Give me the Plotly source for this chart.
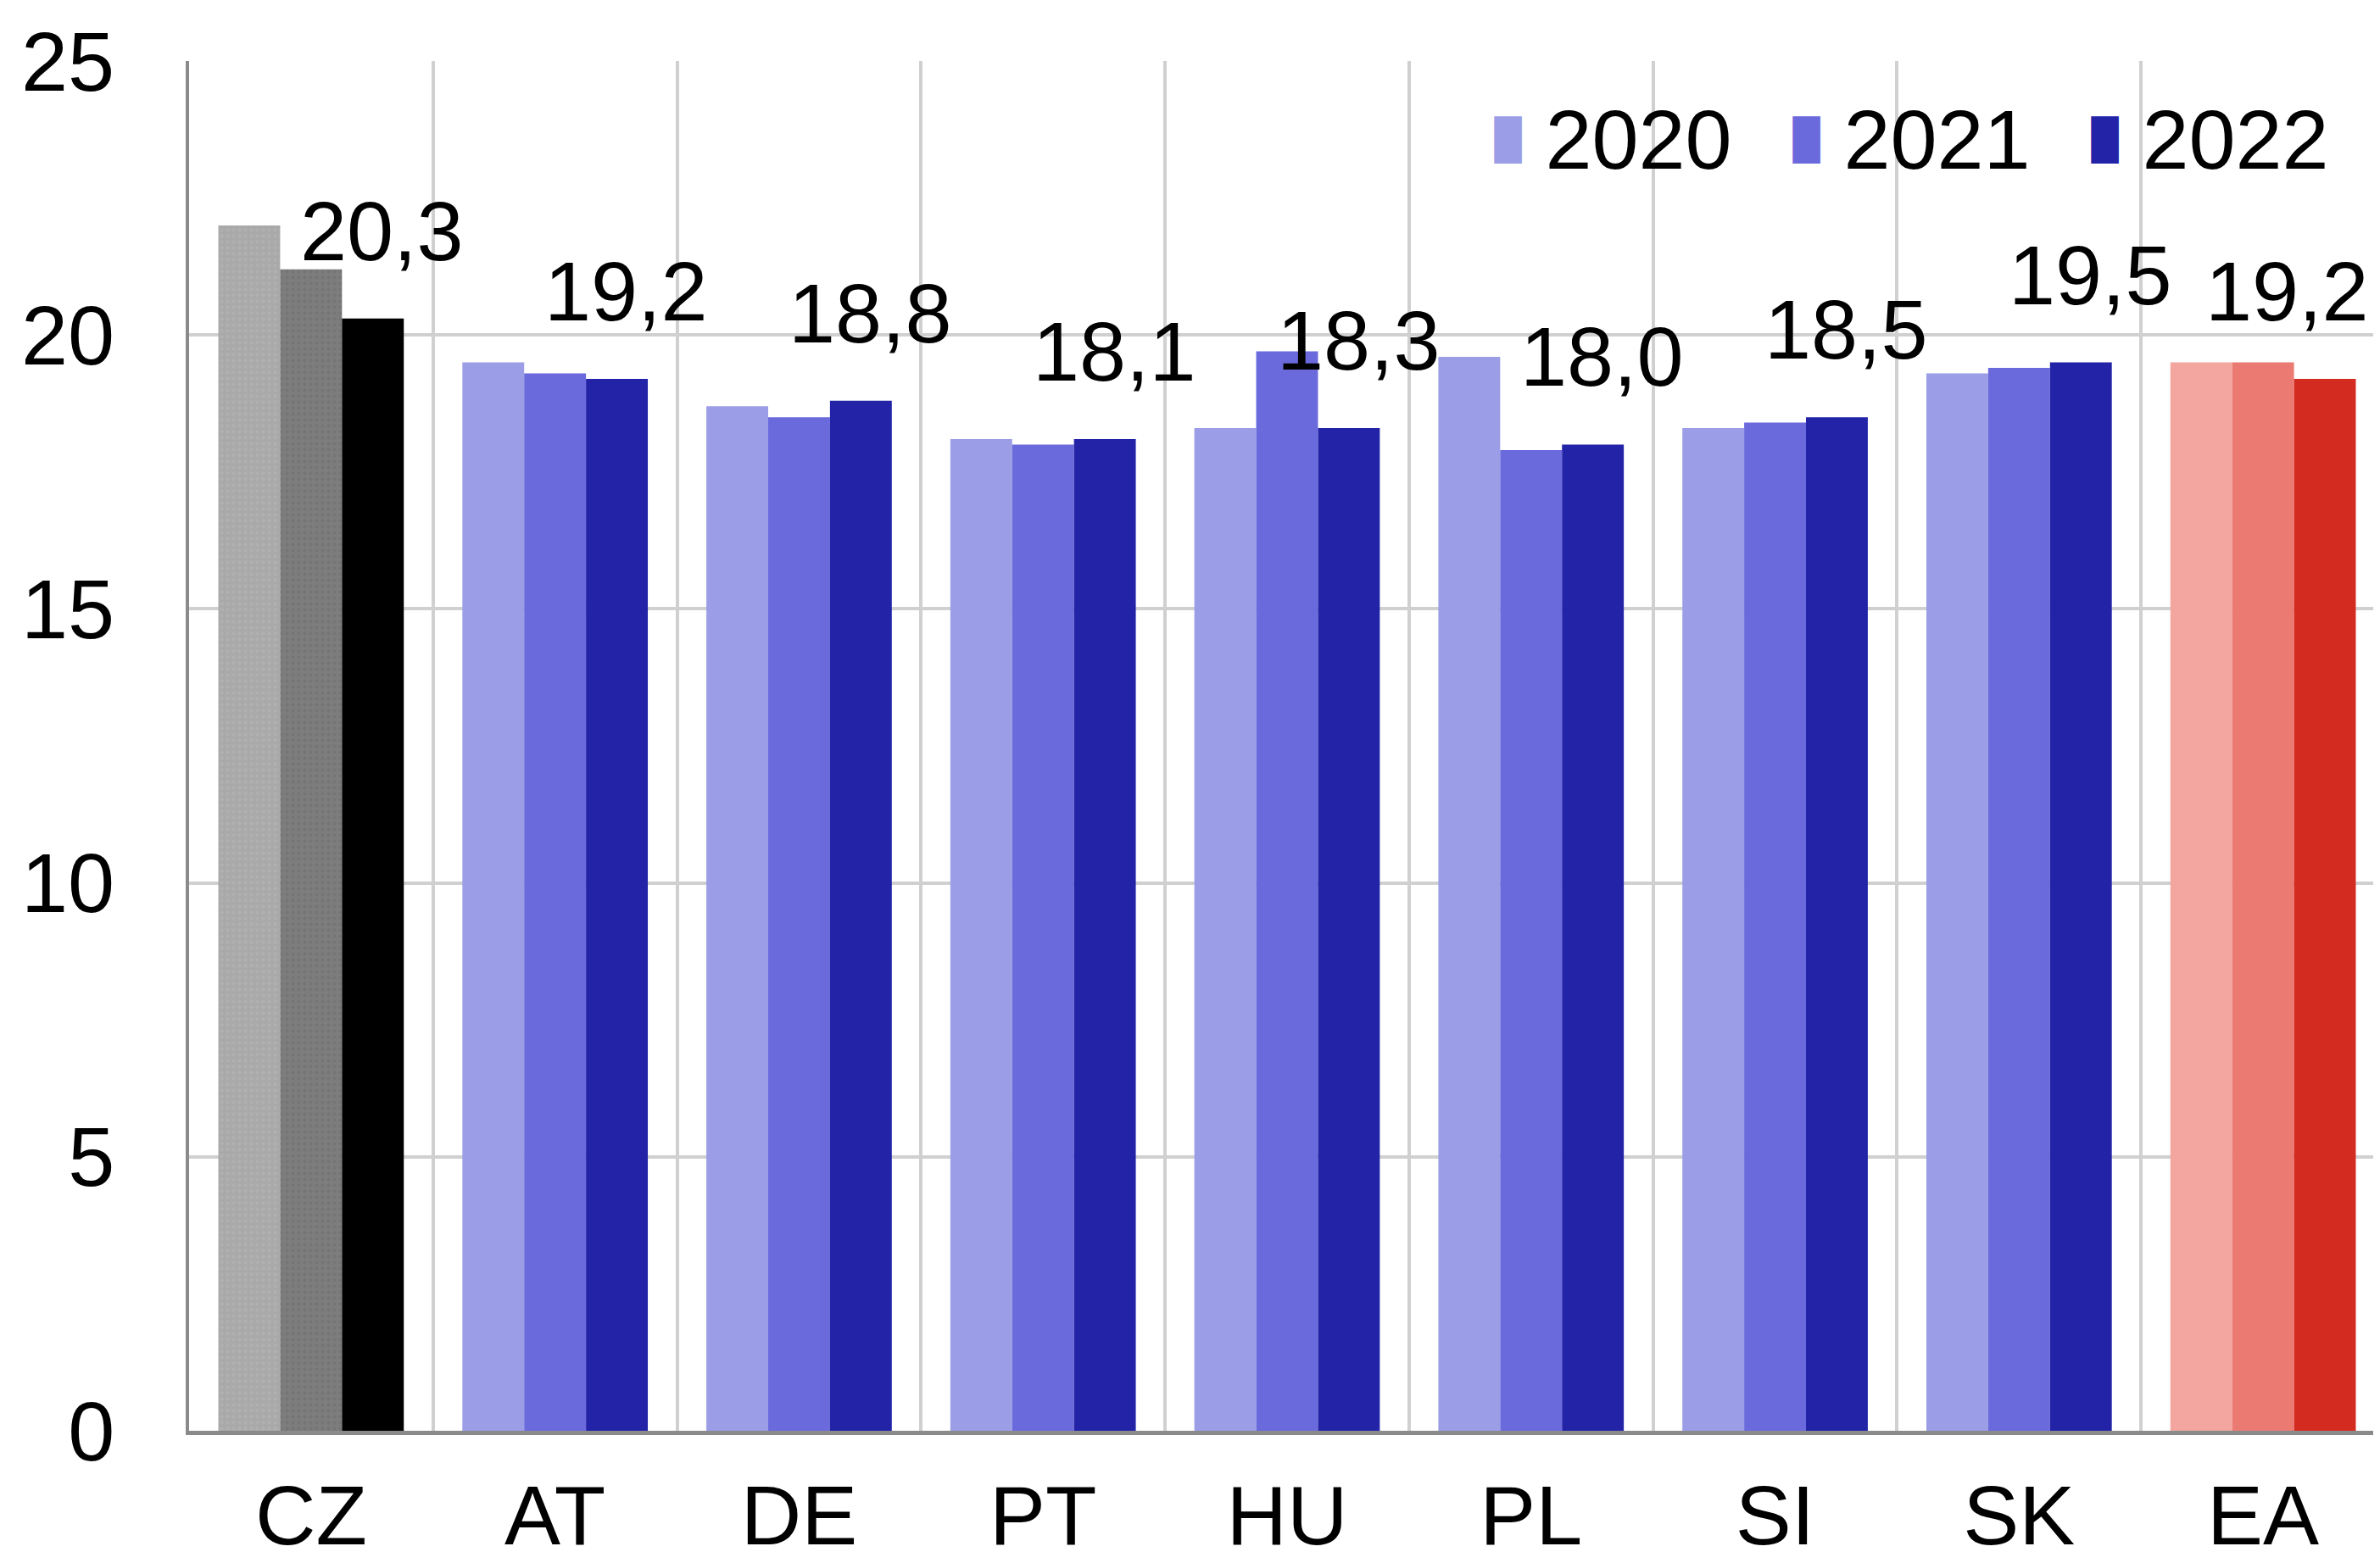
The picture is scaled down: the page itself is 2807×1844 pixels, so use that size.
import plotly.graph_objects as go

categories = ["CZ", "AT", "DE", "PT", "HU", "PL", "SI", "SK", "EA"]
years = ["2020", "2021", "2022"]
v2020 = [22.0, 19.5, 18.7, 18.1, 18.3, 19.6, 18.3, 19.3, 19.5]
v2021 = [21.2, 19.3, 18.5, 18.0, 19.7, 17.9, 18.4, 19.4, 19.5]
v2022 = [20.3, 19.2, 18.8, 18.1, 18.3, 18.0, 18.5, 19.5, 19.2]
y_ticks = [0, 5, 10, 15, 20, 25]

series = [v2020, v2021, v2022]
blue = ["#9B9DE6", "#6A6ADD", "#2323A8"]
grey = ["#A9A9A9", "#7D7D7D", "#000000"]
grey_dots = ["#B8B8B8", "#6E6E6E", "#000000"]
red = ["#F2A69F", "#EB7A73", "#D42B20"]

FONT = "Liberation Sans, Arial, sans-serif"
FS = 99

fig = go.Figure()
mid = categories[1:-1]
for i, (yr, vals) in enumerate(zip(years, series)):
    fig.add_trace(go.Bar(x=categories[:1], y=vals[:1], name=yr, offsetgroup=yr,
                         legendgroup=yr, showlegend=False,
                         marker=dict(color=grey[i], line=dict(width=0),
                                     pattern=dict(shape="." if i < 2 else "",
                                                  fgcolor=grey_dots[i], size=7,
                                                  solidity=0.3, fillmode="overlay"))))
    fig.add_trace(go.Bar(x=mid, y=vals[1:-1], name=yr, offsetgroup=yr,
                         legendgroup=yr, showlegend=False,
                         marker=dict(color=blue[i], line=dict(width=0))))
    fig.add_trace(go.Bar(x=categories[-1:], y=vals[-1:], name=yr, offsetgroup=yr,
                         legendgroup=yr, showlegend=False,
                         marker=dict(color=red[i], line=dict(width=0))))

# legend entries: colour block drawn in the legend text, plotly's own swatch hidden
for i, yr in enumerate(years):
    label = (f'<span style="font-size:46px;fill:{blue[i]};baseline-shift:20px">\u2588</span>'
             f' {yr}')
    fig.add_trace(go.Bar(x=categories[:1], y=[None], name=label, offsetgroup=yr,
                         legendgroup=yr, showlegend=True, hoverinfo="skip",
                         marker=dict(color="rgba(0,0,0,0)", line=dict(width=0))))

for k, (c, v) in enumerate(zip(categories, v2022)):
    last = k == len(categories) - 1
    fig.add_annotation(x=c, y=v, text=f"{v:.1f}".replace(".", ","),
                       showarrow=False, xanchor="center", yanchor="bottom",
                       xshift=28 if last else 84, yshift=46,
                       font=dict(family=FONT, size=FS, color="#000000"))

fig.update_layout(
    width=2807, height=1844,
    margin=dict(l=215, r=2, t=64, b=164, autoexpand=False),
    paper_bgcolor="white", plot_bgcolor="white",
    barmode="group", bargap=0.24, bargroupgap=0,
    font=dict(family=FONT, size=FS, color="#000000"),
    showlegend=True,
    legend=dict(orientation="h", x=0.9866, xanchor="right", y=0.9455, yanchor="middle",
                bgcolor="rgba(0,0,0,0)", font=dict(family=FONT, size=FS),
                itemwidth=30, entrywidth=307, entrywidthmode="pixels",
                traceorder="normal"),
    xaxis=dict(type="category", categoryorder="array", categoryarray=categories,
               tickson="boundaries", showgrid=True, gridcolor="#D0D0D0", gridwidth=4,
               showline=True, linecolor="#8A8A8A", linewidth=5, automargin=False,
               ticks="", ticklabelstandoff=10,
               tickfont=dict(family=FONT, size=FS), zeroline=False),
    yaxis=dict(range=[0, 25], tickvals=y_ticks, showgrid=True, gridcolor="#D0D0D0",
               gridwidth=4, showline=True, linecolor="#8A8A8A", linewidth=4,
               automargin=False, ticks="", ticklabelstandoff=64, zeroline=False,
               tickfont=dict(family=FONT, size=FS)),
)

fig.write_html("out.html")
